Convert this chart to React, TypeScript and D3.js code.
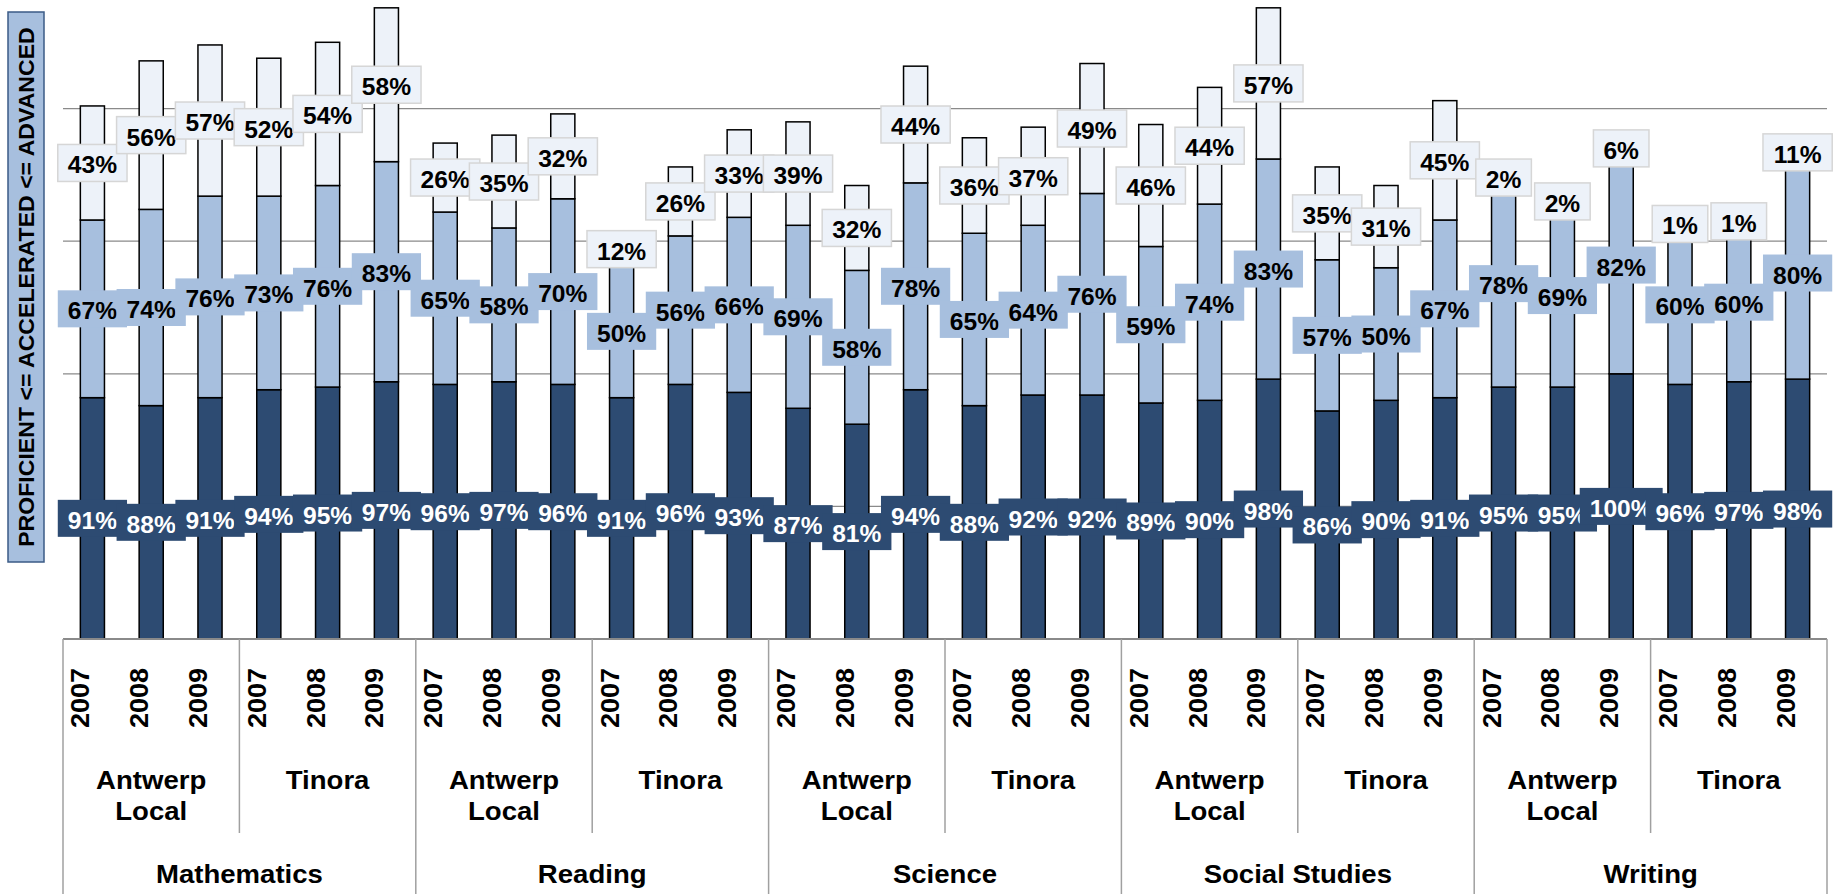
import React from "react";
import * as d3 from "d3";

// ---------- data ----------
const subjects = ["Mathematics", "Reading", "Science", "Social Studies", "Writing"];
const schools = [["Antwerp", "Local"], ["Tinora"]];
const years = ["2007", "2008", "2009"];

const proficient = [91, 88, 91, 94, 95, 97, 96, 97, 96, 91, 96, 93, 87, 81, 94, 88, 92, 92, 89, 90, 98, 86, 90, 91, 95, 95, 100, 96, 97, 98];
const accelerated = [67, 74, 76, 73, 76, 83, 65, 58, 70, 50, 56, 66, 69, 58, 78, 65, 64, 76, 59, 74, 83, 57, 50, 67, 78, 69, 82, 60, 60, 80];
const advanced = [43, 56, 57, 52, 54, 58, 26, 35, 32, 12, 26, 33, 39, 32, 44, 36, 37, 49, 46, 44, 57, 35, 31, 45, 2, 2, 6, 1, 1, 11];

const axisTitle = "PROFICIENT <= ACCELERATED <= ADVANCED";

// ---------- layout ----------
const W = 1843;
const H = 894;
const plotLeft = 63;
const plotRight = 1827;
const baseY = 639;
const pxPerPct = 2.652;

const DARK = "#2D4B72";
const MID = "#A7BFDE";
const LIGHT = "#EDF2F9";
const FONT = "'Liberation Sans', Arial, Helvetica, sans-serif";

const keys = ["proficient", "accelerated", "advanced"];
const fills = [DARK, MID, LIGHT];

const rows = proficient.map((p, i) => ({
  id: i,
  proficient: p,
  accelerated: accelerated[i],
  advanced: advanced[i],
}));

const charW = (s: string) =>
  s.split("").reduce((a, c) => a + (c === "%" ? 0.889 : 0.556), 0);

function T(props: {
  x: number;
  y: number;
  rot?: number;
  sx?: number;
  size: number;
  fill?: string;
  children: React.ReactNode;
}) {
  const { x, y, rot = 0, sx = 1, size, fill = "#000", children } = props;
  return (
    <text
      transform={`translate(${x},${y}) rotate(${rot}) scale(${sx},1)`}
      fontSize={size}
      fontWeight="bold"
      fontFamily={FONT}
      textAnchor="middle"
      fill={fill}
    >
      {children}
    </text>
  );
}

export default function App() {
  const x = d3
    .scaleBand<number>()
    .domain(rows.map((r) => r.id))
    .range([plotLeft, plotRight])
    .paddingInner(0.59)
    .paddingOuter(0.295);
  const step = x.step();
  const bw = x.bandwidth();
  const cx = (i: number) => (x(i) as number) + bw / 2;

  const y = d3
    .scaleLinear()
    .domain([0, 250])
    .range([baseY, baseY - 250 * pxPerPct]);

  const stacked = d3.stack<any>().keys(keys)(rows as any);
  const gridVals = [50, 100, 150, 200];

  const labelSize = 23;
  const labelSx = 1.07;
  const boxH = 37;

  const edge = (k: number) => plotLeft + k * step;

  return (
    <svg
      width={W}
      height={H}
      style={{ position: "absolute", left: 0, top: 0, background: "#fff" }}
    >
      {/* gridlines */}
      {gridVals.map((v) => (
        <line
          key={v}
          x1={plotLeft}
          x2={plotRight}
          y1={y(v)}
          y2={y(v)}
          stroke="#8a8a8a"
          strokeWidth={1.3}
        />
      ))}

      {/* bars */}
      {stacked.map((series, si) => (
        <g key={si}>
          {series.map((d: any, i: number) => (
            <rect
              key={i}
              x={x(i)}
              width={bw}
              y={y(d[1])}
              height={y(d[0]) - y(d[1])}
              fill={fills[si]}
              stroke="#000"
              strokeWidth={1.5}
            />
          ))}
        </g>
      ))}

      {/* category axis */}
      <line x1={plotLeft} x2={plotRight} y1={baseY} y2={baseY} stroke="#8a8a8a" strokeWidth={2} />
      {d3.range(0, 31, 3).map((k) => {
        const isSubject = k % 6 === 0;
        return (
          <line
            key={k}
            x1={edge(k)}
            x2={edge(k)}
            y1={baseY}
            y2={isSubject ? H : 833}
            stroke="#a0a0a0"
            strokeWidth={1.5}
          />
        );
      })}

      {/* year labels */}
      {rows.map((r) => (
        <T key={r.id} x={cx(r.id) - 3} y={698} rot={-90} sx={1.04} size={26}>
          {years[r.id % 3]}
        </T>
      ))}

      {/* school labels */}
      {d3.range(10).map((g) => {
        const gx = edge(g * 3 + 1.5);
        const lines = schools[g % 2];
        return (
          <g key={g}>
            {lines.map((ln, li) => (
              <T key={li} x={gx} y={789 + li * 31} sx={1.06} size={26}>
                {ln}
              </T>
            ))}
          </g>
        );
      })}

      {/* subject labels */}
      {subjects.map((s, si) => (
        <T key={s} x={edge(si * 6 + 3)} y={883} sx={1.06} size={26}>
          {s}
        </T>
      ))}

      {/* data labels */}
      {stacked.map((series, si) => (
        <g key={"lab" + si}>
          {series.map((d: any, i: number) => {
            const v = d[1] - d[0];
            const txt = `${v}%`;
            const wTxt = charW(txt) * labelSize * labelSx;
            const bwBox = wTxt + 20;
            const cy = (y(d[0]) + y(d[1])) / 2;
            return (
              <g key={i}>
                <rect
                  x={cx(i) - bwBox / 2}
                  y={cy - boxH / 2}
                  width={bwBox}
                  height={boxH}
                  fill={fills[si]}
                  stroke={si === 2 ? "#d6d6d6" : "none"}
                  strokeWidth={1.5}
                />
                <T x={cx(i)} y={cy + 10.5} sx={labelSx} size={labelSize} fill={si === 0 ? "#fff" : "#000"}>
                  {txt}
                </T>
              </g>
            );
          })}
        </g>
      ))}

      {/* y axis title */}
      <rect x={8} y={12} width={36} height={550} fill={MID} stroke="#3B5B86" strokeWidth={1.5} />
      <T x={34} y={287} rot={-90} sx={1.05} size={22}>
        {axisTitle}
      </T>
    </svg>
  );
}
